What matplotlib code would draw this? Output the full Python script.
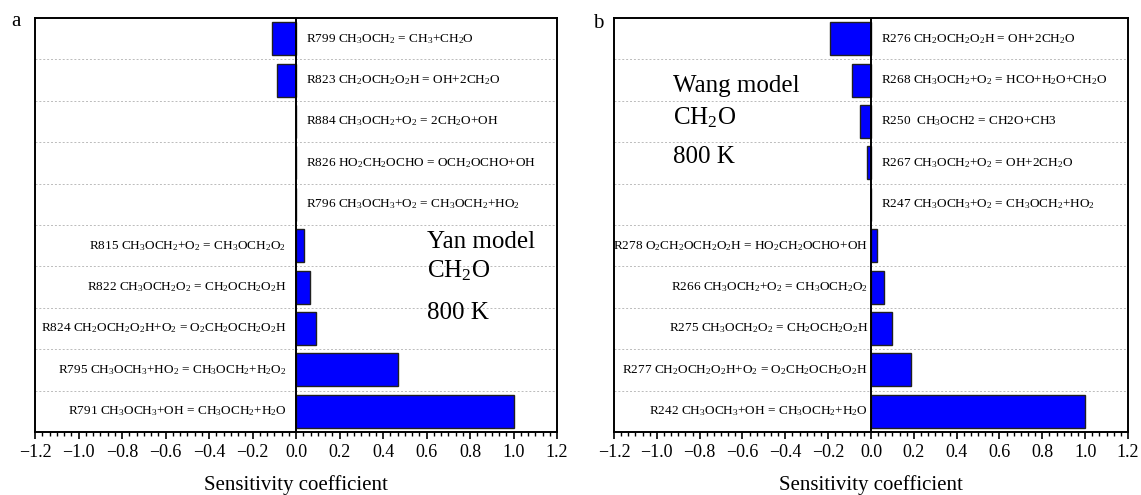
import numpy as np
import matplotlib
matplotlib.use('Agg')
import matplotlib.pyplot as plt
from matplotlib.ticker import MultipleLocator, AutoMinorLocator

plt.rcParams['font.family'] = ['Liberation Serif', 'DejaVu Serif']
plt.rcParams['mathtext.default'] = 'regular'

# reactions listed bottom -> top
yan_labels = [
    r'R791 CH$_3$OCH$_3$+OH = CH$_3$OCH$_2$+H$_2$O',
    r'R795 CH$_3$OCH$_3$+HO$_2$ = CH$_3$OCH$_2$+H$_2$O$_2$',
    r'R824 CH$_2$OCH$_2$O$_2$H+O$_2$ = O$_2$CH$_2$OCH$_2$O$_2$H',
    r'R822 CH$_3$OCH$_2$O$_2$ = CH$_2$OCH$_2$O$_2$H',
    r'R815 CH$_3$OCH$_2$+O$_2$ = CH$_3$OCH$_2$O$_2$',
    r'R796 CH$_3$OCH$_3$+O$_2$ = CH$_3$OCH$_2$+HO$_2$',
    r'R826 HO$_2$CH$_2$OCHO = OCH$_2$OCHO+OH',
    r'R884 CH$_3$OCH$_2$+O$_2$ = 2CH$_2$O+OH',
    r'R823 CH$_2$OCH$_2$O$_2$H = OH+2CH$_2$O',
    r'R799 CH$_3$OCH$_2$ = CH$_3$+CH$_2$O',
]
yan_sens = [1.0, 0.47, 0.094, 0.062, 0.035, 0.0, 0.0, 0.0, -0.089, -0.109]

wang_labels = [
    r'R242 CH$_3$OCH$_3$+OH = CH$_3$OCH$_2$+H$_2$O',
    r'R277 CH$_2$OCH$_2$O$_2$H+O$_2$ = O$_2$CH$_2$OCH$_2$O$_2$H',
    r'R275 CH$_3$OCH$_2$O$_2$ = CH$_2$OCH$_2$O$_2$H',
    r'R266 CH$_3$OCH$_2$+O$_2$ = CH$_3$OCH$_2$O$_2$',
    r'R278 O$_2$CH$_2$OCH$_2$O$_2$H = HO$_2$CH$_2$OCHO+OH',
    r'R247 CH$_3$OCH$_3$+O$_2$ = CH$_3$OCH$_2$+HO$_2$',
    r'R267 CH$_3$OCH$_2$+O$_2$ = OH+2CH$_2$O',
    r'R250  CH$_3$OCH2 = CH2O+CH3',
    r'R268 CH$_3$OCH$_2$+O$_2$ = HCO+H$_2$O+CH$_2$O',
    r'R276 CH$_2$OCH$_2$O$_2$H = OH+2CH$_2$O',
]
wang_sens = [1.0, 0.188, 0.097, 0.059, 0.027, 0.0, -0.019, -0.053, -0.088, -0.19]


def panel(ax, labels, sens, lpad):
    y = np.arange(len(sens))
    ax.barh(y, sens, height=0.8, color='#0000ff', edgecolor='#202020', linewidth=1.0, zorder=3)
    for k in range(len(sens) - 1):
        ax.axhline(k + 0.5, color='#bbbbbb', linestyle=(0, (2, 2)), linewidth=0.7, zorder=1)
    ax.axvline(0, color='black', linewidth=1.4, zorder=4)
    # positive bars get the label on the left of zero, the rest on the right
    for yi, v, lab in zip(y, sens, labels):
        if v > 0:
            ax.annotate(lab, (0, yi), xytext=(-lpad, 0), textcoords='offset points',
                        ha='right', va='center', fontsize=9.5)
        else:
            ax.annotate(lab, (0, yi), xytext=(7, 0), textcoords='offset points',
                        ha='left', va='center', fontsize=9.5)
    ax.set_xlim(-1.2, 1.2)
    ax.set_ylim(-0.5, len(sens) - 0.5)
    ax.set_yticks([])
    ax.xaxis.set_major_locator(MultipleLocator(0.2))
    ax.xaxis.set_minor_locator(AutoMinorLocator(6))
    ax.tick_params(axis='x', which='major', direction='out', length=5, width=1.2, labelsize=13, pad=4)
    ax.tick_params(axis='x', which='minor', direction='out', length=3, width=1.0)
    for s in ax.spines.values():
        s.set_linewidth(1.4)
    ax.set_xlabel('Sensitivity coefficient', fontsize=15, labelpad=10)


fig = plt.figure(figsize=(11.41, 4.95), dpi=100)
ax1 = fig.add_axes([0.0307, 0.1273, 0.4575, 0.8364])
ax2 = fig.add_axes([0.5381, 0.1273, 0.4505, 0.8364])

panel(ax1, yan_labels, yan_sens, 7)
panel(ax2, wang_labels, wang_sens, 2)

ax1.text(0.60, 3.94, 'Yan model', fontsize=18, va='baseline')
ax1.text(0.60, 3.24, r'CH$_2$O', fontsize=18, va='baseline')
ax1.text(0.60, 2.24, '800 K', fontsize=18, va='baseline')

ax2.text(-0.924, 7.70, 'Wang model', fontsize=18, va='baseline')
ax2.text(-0.924, 6.93, r'CH$_2$O', fontsize=18, va='baseline')
ax2.text(-0.924, 6.00, '800 K', fontsize=18, va='baseline')

fig.text(11 / 1141, 1 - 26 / 495, 'a', fontsize=15, va='baseline')
fig.text(593 / 1141, 1 - 28 / 495, 'b', fontsize=15, va='baseline')

fig.savefig('out.png', dpi=100)
